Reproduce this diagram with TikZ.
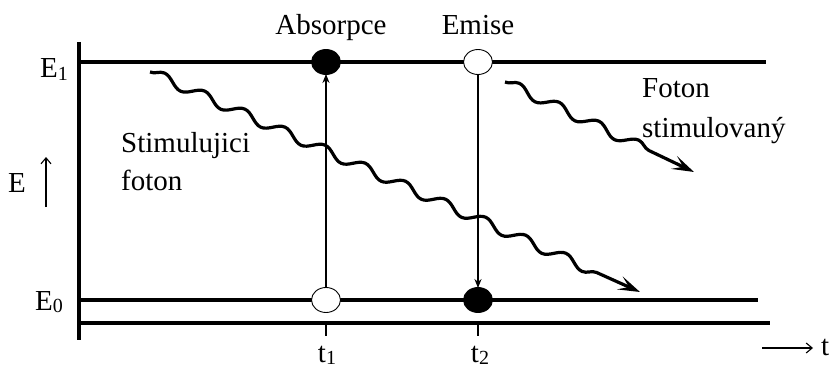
\documentclass[tikz,border=0pt]{standalone}
\usepackage{fontspec}
\setmainfont{Liberation Serif}
\usetikzlibrary{shapes.geometric,decorations.pathmorphing,arrows.meta}

\newcommand{\lowidx}[1]{\raisebox{-2pt}{\fontsize{20}{20}\selectfont #1}}

\tikzset{
  level/.style={line width=3.2pt},
  state/.style={ellipse, draw, line width=0.9pt, minimum width=29pt, minimum height=25pt, inner sep=0pt},
  fullstate/.style={state, fill=black},
  emptystate/.style={state, fill=white},
  trans/.style={line width=1.3pt, -{Stealth[length=9pt,width=7pt]}, shorten >=-1pt},
  photon/.style={line width=3.2pt, decorate,
    decoration={snake, segment length=44pt, amplitude=5pt, post length=28pt},
    -{Stealth[length=22pt,width=14pt,inset=10pt]}},
  lbl/.style={font=\fontsize{29}{34}\selectfont, inner sep=0pt, anchor=base},
}

\begin{document}
\begin{tikzpicture}[x=1pt, y=-1pt, >=stealth]
    \useasboundingbox (0,0) rectangle (831,369);

    \draw[level] (79,42) -- (79,340);
    \draw[level] (79,62) -- (766,62);
    \draw[level] (79,300) -- (758,300);
    \draw[level] (79,323) -- (770,323);

    \draw[line width=1.3pt] (326,323) -- (326,336);
    \draw[line width=1.3pt] (478,323) -- (478,336);

    \node[fullstate] (abs1) at (326,62) {};
    \node[emptystate] (abs0) at (326,300) {};
    \node[emptystate] (emi1) at (478,62) {};
    \node[fullstate] (emi0) at (478,300) {};

    \draw[trans] (abs0) -- (abs1);
    \draw[trans] (emi1) -- (emi0);

    \coordinate (stimA) at (150,72);
    \coordinate (stimB) at (640,292);
    \coordinate (stimulC) at (505,82);
    \coordinate (stimulD) at (694,172);
    \draw[photon] (stimA) -- (stimB);
    \draw[photon] (stimulC) -- (stimulD);

    \node[lbl] (absorpce) at (331,35) {Absorpce};
    \node[lbl] (emise) at (478,35) {Emise};

    \node[lbl, anchor=base east] (E1) at (68,78) {E\lowidx{1}};
    \node[lbl, anchor=base east] (E0) at (63,310) {E\lowidx{0}};
    \node[lbl, anchor=base west] (E) at (8,193) {E};
    \coordinate (Elo) at (46,207);
    \coordinate (Ehi) at (46,157);
    \draw[line width=1.1pt, -{Straight Barb[length=6pt,width=10pt]}] (Elo) -- (Ehi);

    \node[lbl, anchor=base west] (stim1) at (121,152) {Stimulujici};
    \node[lbl, anchor=base west] (stim2) at (121,190) {foton};
    \node[lbl, anchor=base west] (fot1) at (642,98) {Foton};
    \node[lbl, anchor=base west] (fot2) at (642,137) {stimulovaný};

    \node[lbl] (t1) at (327,362) {t\lowidx{1}};
    \node[lbl] (t2) at (480,362) {t\lowidx{2}};

    \coordinate (tlo) at (762,348);
    \coordinate (thi) at (813,348);
    \draw[line width=1.1pt, -{Straight Barb[length=6pt,width=10pt]}] (tlo) -- (thi);
    \node[lbl, anchor=base west] (t) at (821,355) {t};
\end{tikzpicture}
\end{document}
